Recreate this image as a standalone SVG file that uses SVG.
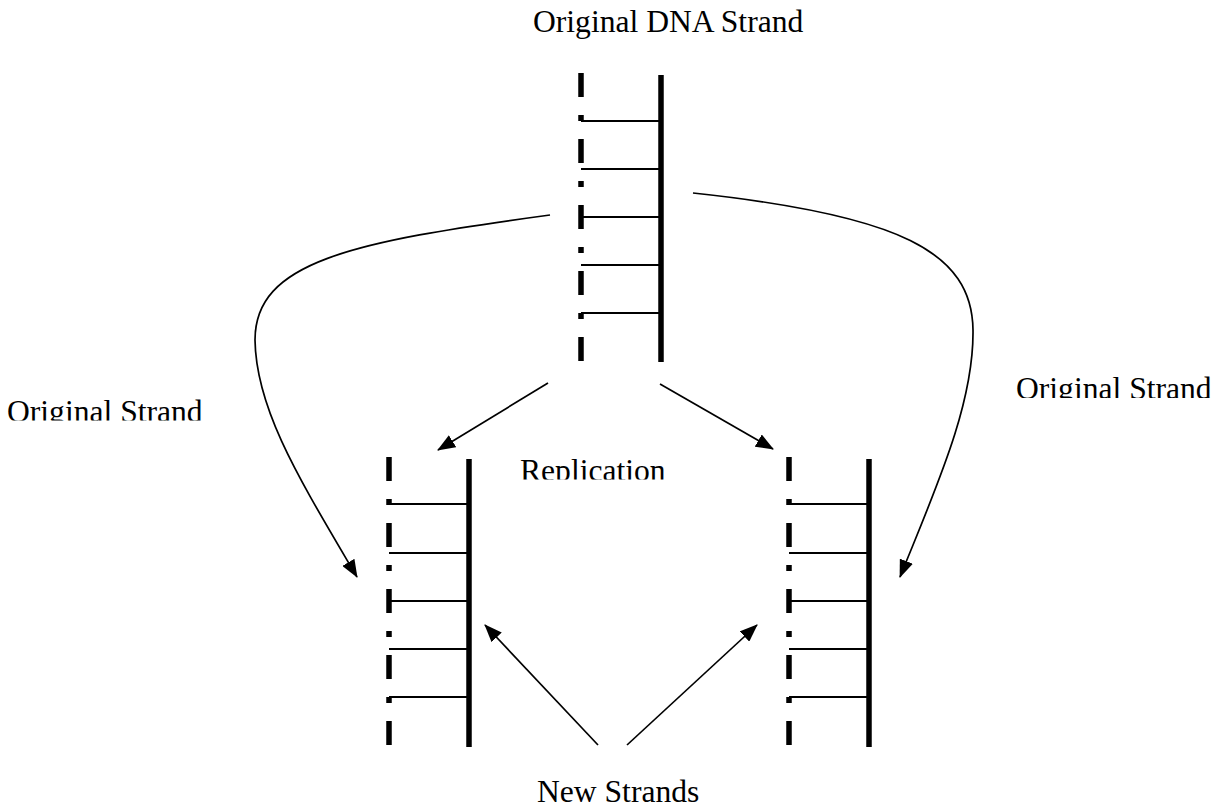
<svg xmlns="http://www.w3.org/2000/svg" width="1219" height="807" viewBox="0 0 1219 807">
<style>
.t{font-family:"Liberation Serif","Times New Roman",serif;font-size:31.6px;fill:#000}
.dash{stroke:#000;stroke-width:5.5;stroke-dasharray:24 18 6 18;fill:none}
.solid{stroke:#000;stroke-width:5.5;fill:none}
.rung{stroke:#000;stroke-width:2;fill:none}
.con{stroke:#000;stroke-width:1.7;fill:none;marker-end:url(#ah)}
</style>
<defs>
<marker id="ah" viewBox="0 0 18 14" refX="17" refY="7" markerWidth="18" markerHeight="14" markerUnits="userSpaceOnUse" orient="auto">
<path d="M0,0 L18,7 L0,14 z" fill="#000"/>
</marker>
<clipPath id="cL"><rect x="0" y="380" width="260" height="40.5"/></clipPath>
<clipPath id="cR"><rect x="1000" y="360" width="219" height="38"/></clipPath>
<clipPath id="cRep"><rect x="500" y="450" width="200" height="29.5"/></clipPath>
</defs>
<rect width="1219" height="807" fill="#fff"/>
<g id="title"><text class="t" x="533" y="32">Original DNA Strand</text></g>
<g id="dna-top">
<line class="dash" x1="581" y1="73" x2="581" y2="362"/>
<line class="solid" x1="661" y1="75" x2="661" y2="362"/>
<line class="rung" x1="581" y1="121" x2="661" y2="121"/>
<line class="rung" x1="581" y1="169" x2="661" y2="169"/>
<line class="rung" x1="581" y1="217" x2="661" y2="217"/>
<line class="rung" x1="581" y1="265" x2="661" y2="265"/>
<line class="rung" x1="581" y1="313" x2="661" y2="313"/>
</g>
<g id="dna-left">
<line class="dash" x1="389" y1="457" x2="389" y2="747"/>
<line class="solid" x1="469" y1="459" x2="469" y2="747"/>
<line class="rung" x1="389" y1="504" x2="469" y2="504"/>
<line class="rung" x1="389" y1="553" x2="469" y2="553"/>
<line class="rung" x1="389" y1="601" x2="469" y2="601"/>
<line class="rung" x1="389" y1="649" x2="469" y2="649"/>
<line class="rung" x1="389" y1="697" x2="469" y2="697"/>
</g>
<g id="dna-right">
<line class="dash" x1="789" y1="457" x2="789" y2="747"/>
<line class="solid" x1="869" y1="459" x2="869" y2="747"/>
<line class="rung" x1="789" y1="504" x2="869" y2="504"/>
<line class="rung" x1="789" y1="553" x2="869" y2="553"/>
<line class="rung" x1="789" y1="601" x2="869" y2="601"/>
<line class="rung" x1="789" y1="649" x2="869" y2="649"/>
<line class="rung" x1="789" y1="697" x2="869" y2="697"/>
</g>
<g id="label-left"><text class="t" x="7" y="422" clip-path="url(#cL)">Original Strand</text></g>
<g id="label-right"><text class="t" x="1016" y="399" clip-path="url(#cR)">Original Strand</text></g>
<g id="label-replication"><text class="t" x="520" y="481" clip-path="url(#cRep)">Replication</text></g>
<g id="label-new"><text class="t" x="537" y="802">New Strands</text></g>
<g id="connectors">
<path class="con" d="M550,215 C350,242 255,262 255,340 C256,410 300,480 357,577"/>
<path class="con" d="M693,193 C900,215 972,252 973,330 C974,405 935,490 900,577"/>
<path class="con" d="M548,383 L438,450"/>
<path class="con" d="M660,384 L773,449"/>
<path class="con" d="M598,745 L485,625"/>
<path class="con" d="M627,745 L757,625"/>
</g>
</svg>
